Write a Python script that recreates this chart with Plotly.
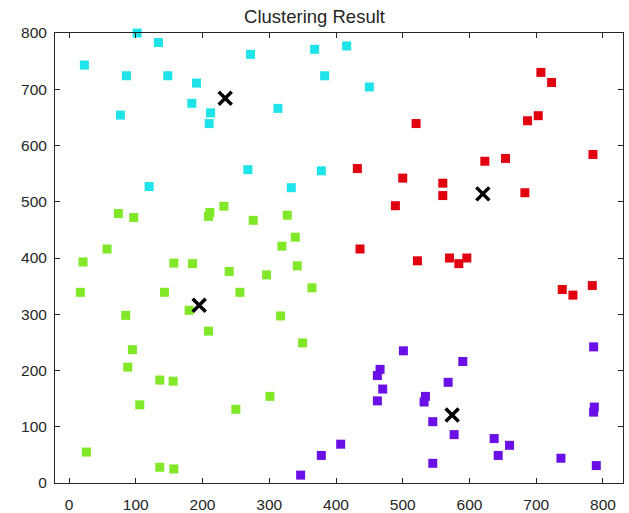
import plotly.graph_objects as go

# Cluster 1 (cyan)
c1_x = [23, 102, 134, 86, 148, 191, 272, 368, 383, 77, 184, 212, 210, 313, 416, 450, 268, 378, 120, 333]
c1_y = [743, 800, 783, 724, 724, 711, 762, 771, 724, 654, 675, 658, 639, 666, 777, 704, 557, 555, 527, 525]

# Cluster 2 (red)
c2_x = [707, 723, 687, 703, 520, 785, 623, 654, 432, 500, 560, 560, 683, 489, 436, 522, 570, 584, 596, 739, 755, 784]
c2_y = [730, 712, 644, 653, 639, 584, 572, 577, 559, 542, 533, 511, 516, 493, 416, 395, 400, 390, 400, 344, 334, 351]

# Cluster 3 (green)
c3_x = [74, 97, 232, 211, 209, 276, 327, 339, 319, 57, 21, 157, 185, 342, 240, 296, 17, 143, 256, 364,
        85, 180, 317, 209, 350, 95, 88, 136, 156, 106, 301, 250, 26, 136, 157]
c3_y = [479, 472, 492, 481, 474, 467, 476, 437, 421, 416, 393, 391, 390, 386, 376, 370, 339, 339, 339, 347,
        298, 307, 297, 270, 249, 237, 206, 183, 181, 139, 154, 131, 55, 28, 25]

# Cluster 4 (purple)
c4_x = [786, 501, 590, 466, 462, 568, 470, 462, 534, 532, 787, 786, 545, 577, 407, 637, 660, 643, 737, 545, 790, 347, 378]
c4_y = [242, 235, 216, 202, 191, 179, 167, 146, 154, 144, 135, 126, 109, 86, 69, 79, 67, 49, 44, 35, 31, 14, 49]

# Centroids
cent_x = [234, 620, 195, 574]
cent_y = [684, 514, 316, 121]

tick_vals = [0, 100, 200, 300, 400, 500, 600, 700, 800]

colors = ["#1EE3E8", "#E0000F", "#80E828", "#6A10E6"]
clusters = [(c1_x, c1_y), (c2_x, c2_y), (c3_x, c3_y), (c4_x, c4_y)]

fig = go.Figure()
for (xs, ys), col in zip(clusters, colors):
    fig.add_trace(go.Scatter(
        x=xs, y=ys, mode="markers",
        marker=dict(symbol="square", size=9, color=col, line=dict(width=0)),
        cliponaxis=False, showlegend=False, hoverinfo="x+y"))

fig.add_trace(go.Scatter(
    x=cent_x, y=cent_y, mode="markers",
    marker=dict(symbol="x-thin", size=13, color="black", line=dict(width=3.5, color="black")),
    cliponaxis=False, showlegend=False))

font_family = "Liberation Sans, Arial, sans-serif"
axis_common = dict(
    showgrid=False, zeroline=False, showline=True, linecolor="#262626", linewidth=1,
    mirror="ticks", ticks="inside", ticklen=5, tickcolor="#262626", automargin=False,
    tickfont=dict(family=font_family, size=15.5, color="#262626"),
)

fig.update_layout(
    width=629, height=513,
    margin=dict(l=55, r=6, t=33, b=30),
    paper_bgcolor="white", plot_bgcolor="white",
    title=dict(text="Clustering Result", x=0.5, xanchor="center", y=0.968, yanchor="middle",
               font=dict(family=font_family, size=18.5, color="#262626")),
    xaxis=dict(range=[-21, 830], tickvals=tick_vals, ticklabelstandoff=7, **axis_common),
    yaxis=dict(range=[0, 800], tickvals=tick_vals, ticklabelstandoff=4, **axis_common),
)

fig.write_html("out.html")
